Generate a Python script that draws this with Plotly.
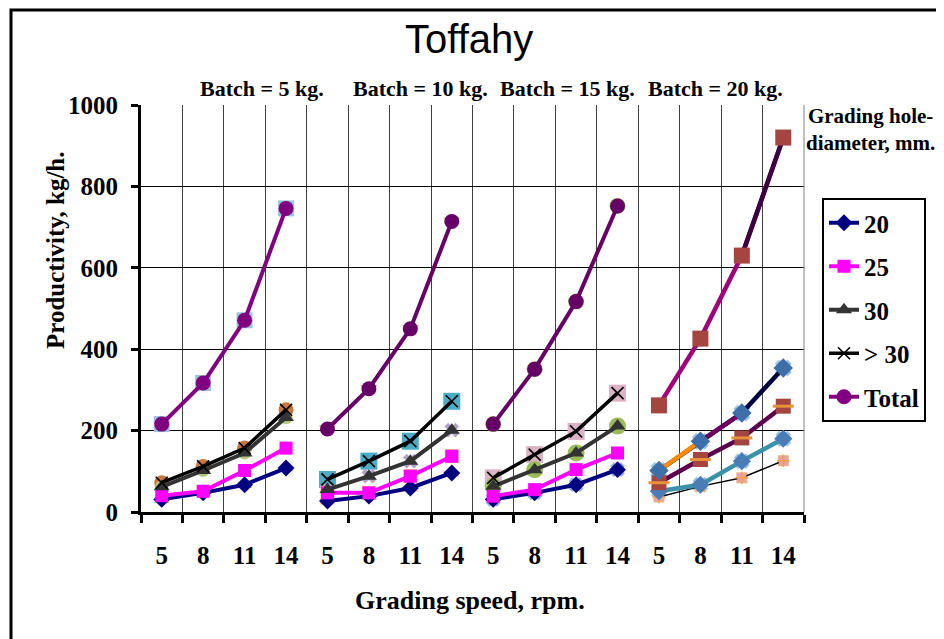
import plotly.graph_objects as go

# ---------------- data ----------------
speeds = [5, 8, 11, 14]
batches = ["Batch = 5 kg.", "Batch = 10 kg.", "Batch = 15 kg.", "Batch = 20 kg."]
series_names = ["20", "25", "30", "> 30", "Total"]

d20 = [[31, 47, 67, 108], [27, 39, 59, 96], [31, 47, 67, 104], [37, 63, 84, 126]]
d25 = [[40, 51, 102, 157], [47, 47, 88, 137], [39, 55, 104, 145], [51, 67, 125, 180]]
d30 = [[62, 102, 145, 232], [55, 88, 125, 201], [63, 104, 145, 211], [72, 129, 182, 260]]
gt30 = [[72, 112, 157, 251], [80, 125, 174, 272], [84, 141, 198, 292], [102, 174, 243, 354]]
total = [[216, 317, 471, 746], [204, 303, 450, 714], [216, 351, 517, 752], [262, 426, 630, 920]]

y_ticks = [0, 200, 400, 600, 800, 1000]

# ---------------- geometry ----------------
W, H = 944, 639
OFF = 8  # page body margin
# target plot area on screen: x 141..804, y 105..512
L, T = 141 - OFF, 105 - OFF
R = W - (804 - OFF)
B = H - (512 - OFF)
PW, PH = W - L - R, H - T - B


def px_x(px):
    return (px - OFF - L) / PW


def px_y(py):
    return (H - B - (py - OFF)) / PH


SERIF = "Liberation Serif"
SANS = "Liberation Sans"

fig = go.Figure()
data = [d20, d25, d30, gt30, total]
ng = len(batches)
ns = len(speeds)


def xs(g):
    return [g * ns + i for i in range(ns)]


def seg(vals, keep):
    return [v if i in keep else None for i, v in enumerate(vals)]


# ---------- ghost markers (underneath) ----------
ghosts = {
    0: [(4, "square", "#9CC3DA", 16), (3, "circle", "#C8773A", 15), (0, "triangle-up", "#9BBB59", 13),
        (2, "circle", "#B5C77A", 13)],
    1: [(4, "triangle-down", "#F4B183", 15), (3, "square", "#4BACC6", 17), (2, "x", "#B3A2C7", 13),
        (0, "triangle-up", "#FAC090", 14), (1, "square", "#FAC090", 14)],
    2: [(4, "circle", "#9BBB59", 16), (3, "square", "#D9B3C3", 17), (2, "circle", "#9BBB59", 17),
        (0, "x", "#8DB4E2", 13)],
    3: [(3, "x", "#9DC3E6", 15), (1, "x", "#9DC3E6", 14), (0, "square", "#F4B183", 11)],
}
for g, lst in ghosts.items():
    for si, sym, col, size in lst:
        fig.add_trace(go.Scatter(
            x=xs(g), y=data[si][g], mode="markers", showlegend=False, hoverinfo="skip",
            marker=dict(symbol=sym, color=col, size=size, line=dict(width=0)),
        ))

# ---------- main series, groups 1-3 ----------
styles = [
    dict(color="#000080", sym="diamond", size=13, lw=4),
    dict(color="#FF00FF", sym="square", size=13, lw=4),
    dict(color="#333333", sym="triangle-up", size=14, lw=4),
    dict(color="#000000", sym="x-thin", size=12, lw=3.5),
    dict(color="#800080", sym="circle", size=15, lw=4),
]
total_colors = ["#800080", "#660066", "#660066"]

for g in range(3):
    for si, name in enumerate(series_names):
        st = styles[si]
        col = st["color"]
        if si == 4:
            col = total_colors[g]
        if st["sym"] == "x-thin":
            marker = dict(symbol="x-thin", size=st["size"], color=col, line=dict(width=1.6, color=col))
        else:
            marker = dict(symbol=st["sym"], size=st["size"], color=col, line=dict(width=0))
        fig.add_trace(go.Scatter(
            x=xs(g), y=data[si][g], mode="lines+markers", name=name,
            legendgroup=name, showlegend=(g == 0),
            line=dict(color=col, width=st["lw"]), marker=marker,
        ))

# ---------- group 4 (different colouring) ----------
g = 3
fig.add_trace(go.Scatter(x=xs(g), y=d20[g], mode="lines+markers", showlegend=False, legendgroup="20",
                         line=dict(color="#000000", width=1.5),
                         marker=dict(symbol="square", size=9, color="#E6A3A3", line=dict(width=0))))
fig.add_trace(go.Scatter(x=xs(g), y=d20[g], mode="markers", showlegend=False, hoverinfo="skip",
                         marker=dict(symbol="cross-thin", size=9, line=dict(width=1.5, color="#F5A040"))))
fig.add_trace(go.Scatter(x=xs(g), y=d25[g], mode="lines+markers", showlegend=False, legendgroup="25",
                         line=dict(color="#3A91A8", width=4.5),
                         marker=dict(symbol="diamond", size=14, color="#4A7DB5", line=dict(width=0))))
fig.add_trace(go.Scatter(x=xs(g), y=d30[g], mode="lines+markers", showlegend=False, legendgroup="30",
                         line=dict(color="#5A004E", width=4.5),
                         marker=dict(symbol="square", size=15, color="#A5453F", line=dict(width=0))))
fig.add_trace(go.Scatter(x=xs(g), y=d30[g], mode="markers", showlegend=False, hoverinfo="skip",
                         marker=dict(symbol="line-ew", size=15, line=dict(width=3, color="#E8923A"))))
fig.add_trace(go.Scatter(x=xs(g), y=gt30[g], mode="lines", showlegend=False, legendgroup="> 30",
                         line=dict(color="#00003C", width=4.5)))
fig.add_trace(go.Scatter(x=xs(g), y=seg(gt30[g], {0, 1}), mode="lines", showlegend=False, hoverinfo="skip",
                         line=dict(color="#FF8C00", width=4.5)))
fig.add_trace(go.Scatter(x=xs(g), y=seg(gt30[g], {1, 2}), mode="lines", showlegend=False, hoverinfo="skip",
                         line=dict(color="#6B0060", width=4.5)))
fig.add_trace(go.Scatter(x=xs(g), y=gt30[g], mode="markers", showlegend=False, hoverinfo="skip",
                         marker=dict(symbol="diamond", size=15, color="#3F6FA8", line=dict(width=0))))
fig.add_trace(go.Scatter(x=xs(g), y=total[g], mode="lines", showlegend=False, legendgroup="Total",
                         line=dict(color="#A0007C", width=4.5)))
fig.add_trace(go.Scatter(x=xs(g), y=seg(total[g], {2, 3}), mode="lines", showlegend=False, hoverinfo="skip",
                         line=dict(color="#3A0040", width=4.5)))
fig.add_trace(go.Scatter(x=xs(g), y=total[g], mode="markers", showlegend=False, hoverinfo="skip",
                         marker=dict(symbol="square", size=16, color="#A5453F", line=dict(width=0))))

# ---------------- axes ----------------
centers = list(range(ng * ns))
bounds = [c - 0.5 for c in centers] + [ng * ns - 0.5]
ticktext = [str(s) for _ in batches for s in speeds]

fig.update_xaxes(
    range=[-0.5, ng * ns - 0.5], tickmode="array", tickvals=centers, ticktext=ticktext,
    ticks="outside", ticklen=19, tickcolor="rgba(0,0,0,0)", showgrid=False, zeroline=False,
    showline=True, linecolor="black", linewidth=3,
    tickfont=dict(family=SERIF, size=25, color="black", weight="bold"),
    minor=dict(tickmode="array", tickvals=bounds, ticks="outside", ticklen=8, tickwidth=3,
               tickcolor="black", showgrid=True, gridcolor="#404040", gridwidth=1),
)
fig.update_yaxes(
    range=[0, 1000], tickmode="array", tickvals=y_ticks, ticks="outside", ticklen=7, tickwidth=3,
    tickcolor="black", showline=True, linecolor="black", linewidth=3, zeroline=False,
    showgrid=True, gridcolor="black", gridwidth=1, ticklabelstandoff=8,
    tickfont=dict(family=SERIF, size=25, color="black", weight="bold"),
)

# ---------------- annotations ----------------
ann = []
ann.append(dict(text="Toffahy", x=px_x(469), y=px_y(39), xref="paper", yref="paper", showarrow=False,
                font=dict(family=SANS, size=40, color="black"), xanchor="center", yanchor="middle"))
for label, cx in zip(batches, [262, 420, 567, 715]):
    ann.append(dict(text=label, x=px_x(cx), y=px_y(88), xref="paper", yref="paper", showarrow=False,
                    font=dict(family=SERIF, size=22, color="black", weight="bold"),
                    xanchor="center", yanchor="middle"))
ann.append(dict(text="Grading hole-<br>diameter, mm.", x=px_x(870), y=px_y(129), xref="paper", yref="paper",
                showarrow=False, font=dict(family=SERIF, size=21, color="black", weight="bold"),
                xanchor="center", yanchor="middle", align="center"))
ann.append(dict(text="Grading speed, rpm.", x=px_x(470), y=px_y(600), xref="paper", yref="paper",
                showarrow=False, font=dict(family=SERIF, size=26, color="black", weight="bold"),
                xanchor="center", yanchor="middle"))
ann.append(dict(text="Productivity, kg/h.", x=px_x(55), y=px_y(250), xref="paper", yref="paper",
                showarrow=False, textangle=-90, font=dict(family=SERIF, size=25, color="black", weight="bold"),
                xanchor="center", yanchor="middle"))

shapes = [
    dict(type="rect", xref="paper", yref="paper", x0=px_x(11), x1=px_x(970), y0=px_y(660), y1=px_y(10),
         line=dict(color="black", width=3), fillcolor="rgba(0,0,0,0)", layer="above"),
    dict(type="line", xref="paper", yref="paper", x0=1, x1=1, y0=0, y1=1,
         line=dict(color="#808080", width=1)),
]

fig.update_layout(
    width=W, height=H, margin=dict(l=L, r=R, t=T, b=B),
    paper_bgcolor="white", plot_bgcolor="white",
    annotations=ann, shapes=shapes,
    legend=dict(x=px_x(822), y=px_y(198), xanchor="left", yanchor="top",
                bordercolor="black", borderwidth=2, bgcolor="white",
                font=dict(family=SERIF, size=25, color="black", weight="bold"),
                tracegroupgap=8, traceorder="grouped", itemwidth=30),
)

fig.write_html("out.html")
